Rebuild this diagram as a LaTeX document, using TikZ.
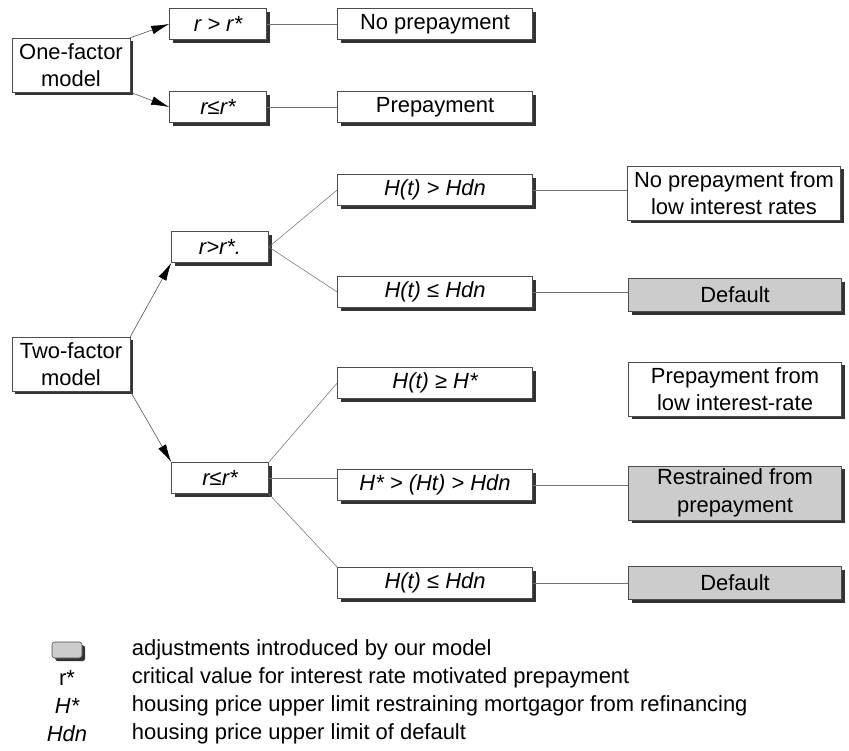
\documentclass[tikz,border=0pt]{standalone}
\usepackage{fontspec}
\setmainfont{Liberation Sans}
\usetikzlibrary{arrows.meta,shadows}

\tikzset{
  box/.style={draw=black!70, fill=white, line width=0.4pt, inner sep=1pt, align=center,
    drop shadow={shadow xshift=0.8mm, shadow yshift=-0.8mm, fill=black!80, opacity=1}},
  adjbox/.style={box, fill=black!20},
  modelbox/.style={minimum width=29.5mm, minimum height=13.5mm},
  condbox/.style={minimum width=24.25mm, minimum height=7.8mm},
  hbox/.style={minimum width=48.75mm, minimum height=7.8mm},
  outbox/.style={minimum width=53.25mm, minimum height=8.2mm},
  link/.style={draw=black!55, line width=0.4pt},
  branch/.style={draw=black!70, line width=0.4pt, -{Latex[length=4.5mm, width=2.2mm, black]}},
}

\begin{document}
\begin{tikzpicture}[x=0.25mm, y=-0.25mm, font=\fontsize{15.6}{19.5}\selectfont]
\useasboundingbox (0,0) rectangle (849,751);

% One-factor model
\node[box, modelbox] (onef) at (71,65) {One-factor\\model};
\node[box, condbox] (ra1) at (218,24) {\itshape r > r*};
\node[box, condbox] (rb1) at (218,107) {\itshape r≤r*};
\node[box, hbox] (nopre) at (435,24) {No prepayment};
\node[box, hbox] (pre) at (435,107) {Prepayment};

\draw[branch] (onef.north east) -- (ra1.west);
\draw[branch] (onef.south east) -- (rb1.west);

% Two-factor model
\node[box, modelbox] (twof) at (71,364) {Two-factor\\model};
\node[box, condbox] (ra2) at (220,247) {\itshape r>r*.};
\node[box, condbox] (rb2) at (220,478) {\itshape r≤r*};

\node[box, hbox] (h1) at (435,190) {\itshape H(t) > Hdn};
\node[box, hbox] (h2) at (435,292) {\itshape H(t) ≤ Hdn};
\node[box, hbox] (h3) at (435,383) {\itshape H(t) ≥ H*};
\node[box, hbox] (h4) at (435,485) {\itshape H* > (Ht) > Hdn};
\node[box, hbox] (h5) at (435,583) {\itshape H(t) ≤ Hdn};

\node[box, outbox, minimum height=13.5mm] (o1) at (734,193) {No prepayment from\\low interest rates};
\node[adjbox, outbox] (o2) at (735,295) {Default};
\node[box, outbox, minimum height=13.5mm] (o3) at (735,389) {Prepayment from\\low interest-rate};
\node[adjbox, outbox, minimum height=13.5mm] (o4) at (735,493) {Restrained from\\prepayment};
\node[adjbox, outbox] (o5) at (735,583) {Default};

\draw[branch] (twof.north east) -- (ra2.south west);
\draw[branch] (twof.south east) -- (rb2.north west);

\draw[link] (ra2.east) -- (h1.west);
\draw[link] (ra2.east) -- (h2.west);
\draw[link] (rb2.north east) -- (h3.west);
\draw[link] (rb2.east) -- (rb2.east -| h4.west);
\draw[link] (rb2.south east) -- (h5.north west);

\foreach \a/\b in {ra1/nopre, rb1/pre, h1/o1, h2/o2, h4/o4, h5/o5}
  \draw[link] (\a.east) -- (\a.east -| \b.west);

% Legend
\node[adjbox, rounded corners=2pt, minimum width=7.5mm, minimum height=4mm] (sym1) at (67,650) {};
\node[anchor=west] (key1) at (127,650) {adjustments introduced by our model};
\foreach \s/\t [count=\i from 2] in {
    r*/critical value for interest rate motivated prepayment,
    \itshape H*/housing price upper limit restraining mortgagor from refinancing,
    \itshape Hdn/housing price upper limit of default} {
  \node (sym\i) at (67,622+28*\i) {\s};
  \node[anchor=west] (key\i) at (127,622+28*\i) {\t};
}
\end{tikzpicture}
\end{document}
